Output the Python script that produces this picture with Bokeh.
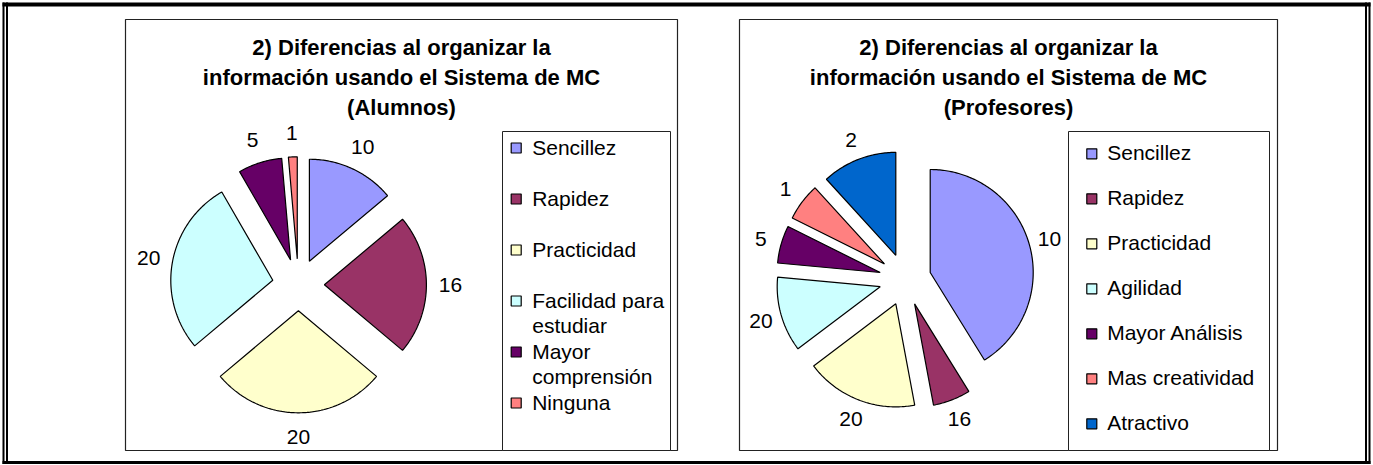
import numpy as np
from bokeh.plotting import figure
from bokeh.models import Range1d
from bokeh.embed import file_html
from bokeh.resources import INLINE
from bokeh.core.properties import value

# ---------------- data ----------------
alumnos_title = ["2) Diferencias al organizar la",
                 "información usando el Sistema de MC",
                 "(Alumnos)"]
alumnos_categories = ["Sencillez", "Rapidez", "Practicidad",
                      "Facilidad para\nestudiar", "Mayor\ncomprensión", "Ninguna"]
alumnos_values = [10, 16, 20, 20, 5, 1]
alumnos_labels = ["10", "16", "20", "20", "5", "1"]
alumnos_colors = ["#9999FF", "#993366", "#FFFFCC", "#CCFFFF", "#660066", "#FF8080"]

profesores_title = ["2) Diferencias al organizar la",
                    "información usando el Sistema de MC",
                    "(Profesores)"]
profesores_categories = ["Sencillez", "Rapidez", "Practicidad", "Agilidad",
                         "Mayor Análisis", "Mas creatividad", "Atractivo"]
profesores_values = [7, 1, 3, 2, 1, 1, 2]
profesores_labels = ["10", "16", "20", "20", "5", "1", "2"]
profesores_colors = ["#9999FF", "#993366", "#FFFFCC", "#CCFFFF", "#660066", "#FF8080", "#0066CC"]

FONT = value("Liberation Sans")

W, H = 1373, 465
p = figure(width=W, height=H, output_backend="svg", toolbar_location=None,
           x_range=Range1d(0, W), y_range=Range1d(H, 0),
           x_axis_type=None, y_axis_type=None, min_border=0)
p.grid.visible = False
p.outline_line_color = None
p.background_fill_color = "white"
p.border_fill_color = "white"

# ---------------- outer frame ----------------
L, R, T, B = 2, 1370, 2, 463.5
p.quad(left=[L, L, L + 3.5, R - 2, R - 5.5, L],
       right=[R, L + 2, L + 5.5, R, R - 3.5, R],
       top=[T, T, T, T, T, B - 3],
       bottom=[T + 4, B, B, B, B, B],
       fill_color="black", line_color=None)


def chart(x0, x1, y0, y1, lx0, lx1, ly0, cx, cy, r, explode, label_r,
          title, cats, vals, labels, colors, leg_sq_x, leg_txt_x, leg_y0, leg_dy, wrap_dy):
    # chart area box
    p.quad(left=[x0], right=[x1], top=[y0], bottom=[y1],
           fill_color="white", line_color="#222222", line_width=1.2)
    # legend box
    p.quad(left=[lx0], right=[lx1], top=[ly0], bottom=[y1],
           fill_color="white", line_color="#222222", line_width=1.0)

    # title
    for i, line in enumerate(title):
        p.text(x=[(x0 + x1) / 2], y=[46.7 + 30 * i], text=[line],
               text_font=FONT, text_font_size="22px", text_font_style="bold",
               text_align="center", text_baseline="middle", text_color="black")

    # pie slices (exploded)
    total = float(sum(vals))
    start = 0.0
    xs, ys, lxs, lys = [], [], [], []
    for v in vals:
        frac = v / total
        a0, a1 = start * 2 * np.pi, (start + frac) * 2 * np.pi
        mid = (a0 + a1) / 2
        ox = cx + explode * np.sin(mid)
        oy = cy - explode * np.cos(mid)
        t = np.linspace(a0, a1, max(3, int(frac * 400) + 3))
        xs.append([ox] + list(ox + r * np.sin(t)))
        ys.append([oy] + list(oy - r * np.cos(t)))
        lxs.append(cx + label_r * np.sin(mid))
        lys.append(cy - label_r * np.cos(mid))
        start += frac
    p.patches(xs=xs, ys=ys, fill_color=colors, line_color="black", line_width=1.2)
    p.text(x=lxs, y=lys, text=labels, text_font=FONT, text_font_size="21px",
           text_align="center", text_baseline="middle", text_color="black")

    # legend
    sq_x, sq_y, tx, ty, tt = [], [], [], [], []
    y = leg_y0
    for c in cats:
        sq_x.append(leg_sq_x)
        sq_y.append(y)
        for j, part in enumerate(c.split("\n")):
            tx.append(leg_txt_x)
            ty.append(y - 1 + j * wrap_dy)
            tt.append(part)
        y += leg_dy
    p.rect(x=sq_x, y=sq_y, width=10, height=10, fill_color=colors,
           line_color="black", line_width=1.2)
    p.text(x=tx, y=ty, text=tt, text_font=FONT, text_font_size="21px",
           text_align="left", text_baseline="middle", text_color="black")


chart(125, 677, 19, 450, 502, 670, 131, 297.9, 284.3, 102, 26, 152,
      alumnos_title, alumnos_categories, alumnos_values, alumnos_labels, alumnos_colors,
      515.7, 531.7, 147.5, 51, 25.5)

chart(739, 1277, 19, 450, 1068, 1269, 131, 904.7, 279.1, 103, 26, 150,
      profesores_title, profesores_categories, profesores_values, profesores_labels,
      profesores_colors, 1091.3, 1106.7, 153.3, 45, 25.5)

open("out.html", "w").write(file_html(p, INLINE))
